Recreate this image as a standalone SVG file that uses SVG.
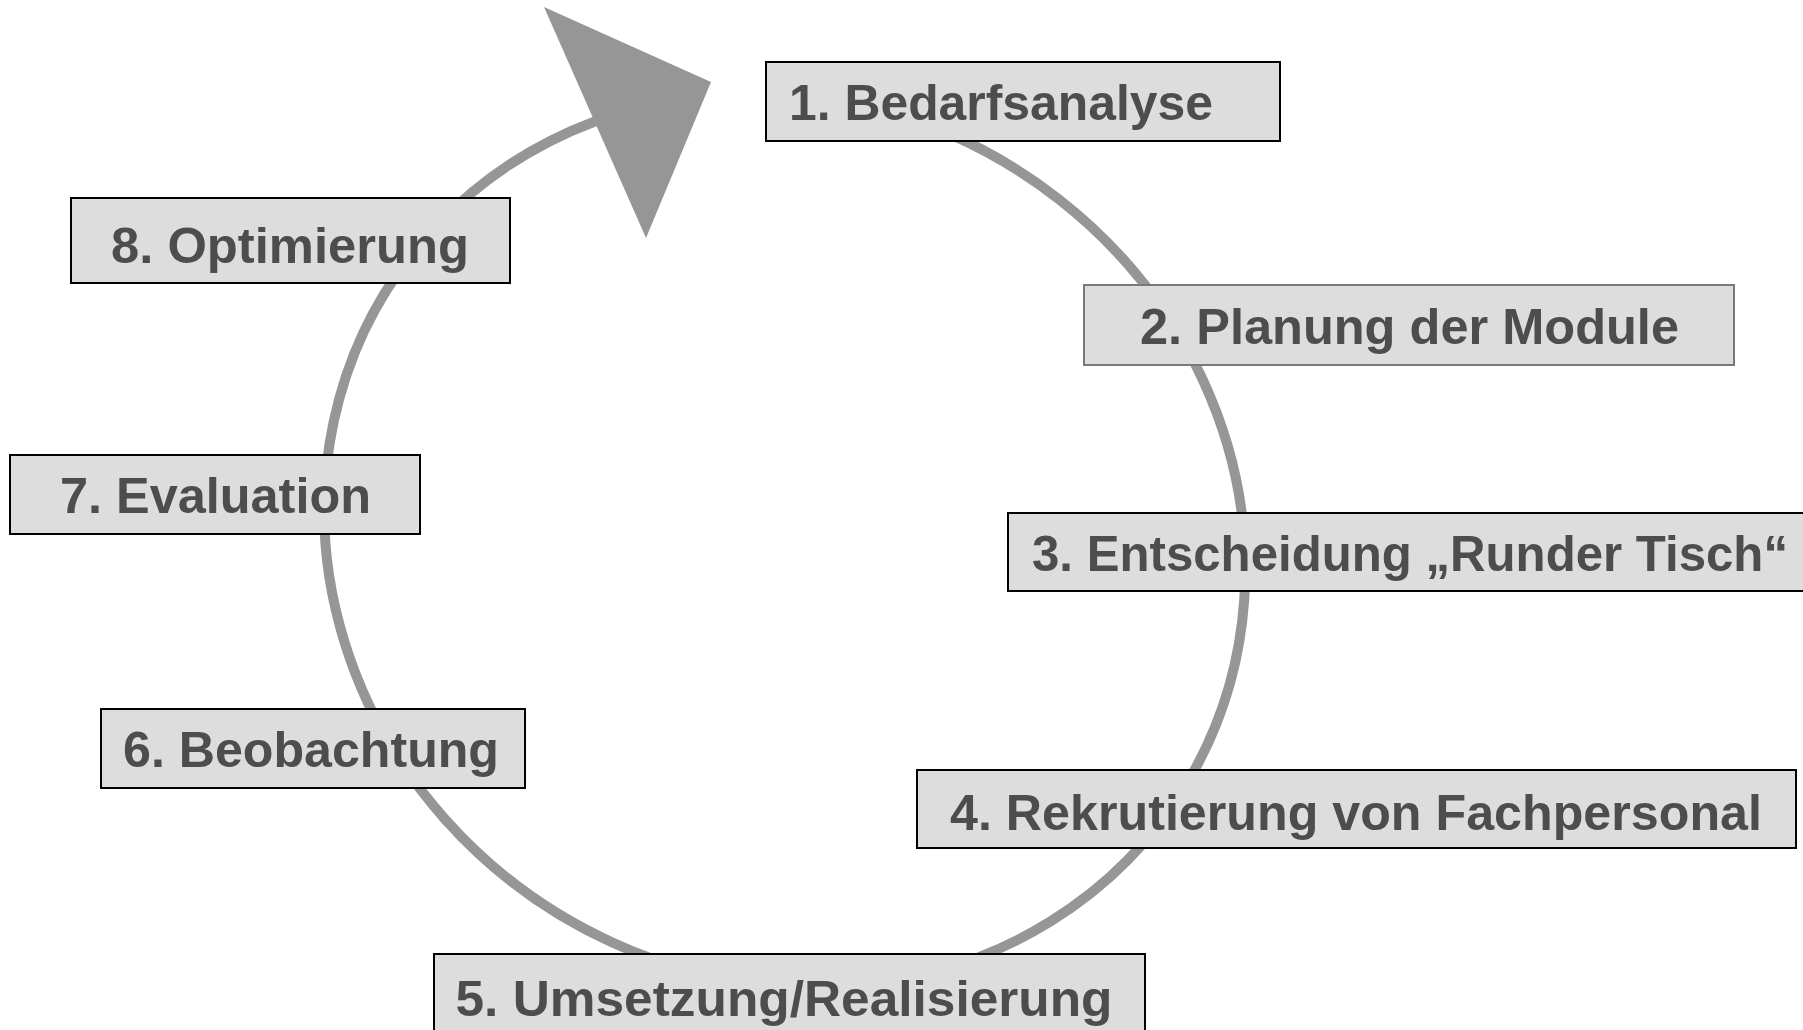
<svg xmlns="http://www.w3.org/2000/svg" width="1803" height="1030" viewBox="0 0 1803 1030">
<style>
.box{fill:#dddddd;stroke:#000;stroke-width:2}
.box2{fill:#dddddd;stroke:#7a7a7a;stroke-width:2}
.lbl{font-family:"Liberation Sans",Arial,sans-serif;font-weight:bold;font-size:50px;fill:#4d4d4d;text-anchor:middle}
.arc{fill:none;stroke:#969696;stroke-width:10}
.head{fill:#969696}
</style>
<rect width="1803" height="1030" fill="#fff"/>
<g id="connectors">
<path class="arc" d="M 873.8 108.1 A 470 437 33 1 1 595.5 121.2"/>
<polygon class="head" points="544,7 711,82 646,238"/>
</g>
<g id="n1"><rect class="box" x="766" y="62" width="514" height="79"/><text class="lbl" x="1001" y="120" textLength="424" lengthAdjust="spacingAndGlyphs">1. Bedarfsanalyse</text></g>
<g id="n2"><rect class="box2" x="1084" y="285" width="650" height="80"/><text class="lbl" x="1409.5" y="344" textLength="539" lengthAdjust="spacingAndGlyphs">2. Planung der Module</text></g>
<g id="n3"><rect class="box" x="1008" y="513" width="810" height="78"/><text class="lbl" x="1410" y="571" textLength="756" lengthAdjust="spacingAndGlyphs">3. Entscheidung „Runder Tisch“</text></g>
<g id="n4"><rect class="box" x="917" y="770" width="879" height="78"/><text class="lbl" x="1356" y="830" textLength="812" lengthAdjust="spacingAndGlyphs">4. Rekrutierung von Fachpersonal</text></g>
<g id="n5"><rect class="box" x="434" y="954" width="711" height="90"/><text class="lbl" x="784" y="1016" textLength="657" lengthAdjust="spacingAndGlyphs">5. Umsetzung/Realisierung</text></g>
<g id="n6"><rect class="box" x="101" y="709" width="424" height="79"/><text class="lbl" x="311" y="767" textLength="376" lengthAdjust="spacingAndGlyphs">6. Beobachtung</text></g>
<g id="n7"><rect class="box" x="10" y="455" width="410" height="79"/><text class="lbl" x="215.5" y="513" textLength="311" lengthAdjust="spacingAndGlyphs">7. Evaluation</text></g>
<g id="n8"><rect class="box" x="71" y="198" width="439" height="85"/><text class="lbl" x="290" y="263" textLength="358" lengthAdjust="spacingAndGlyphs">8. Optimierung</text></g>
</svg>
